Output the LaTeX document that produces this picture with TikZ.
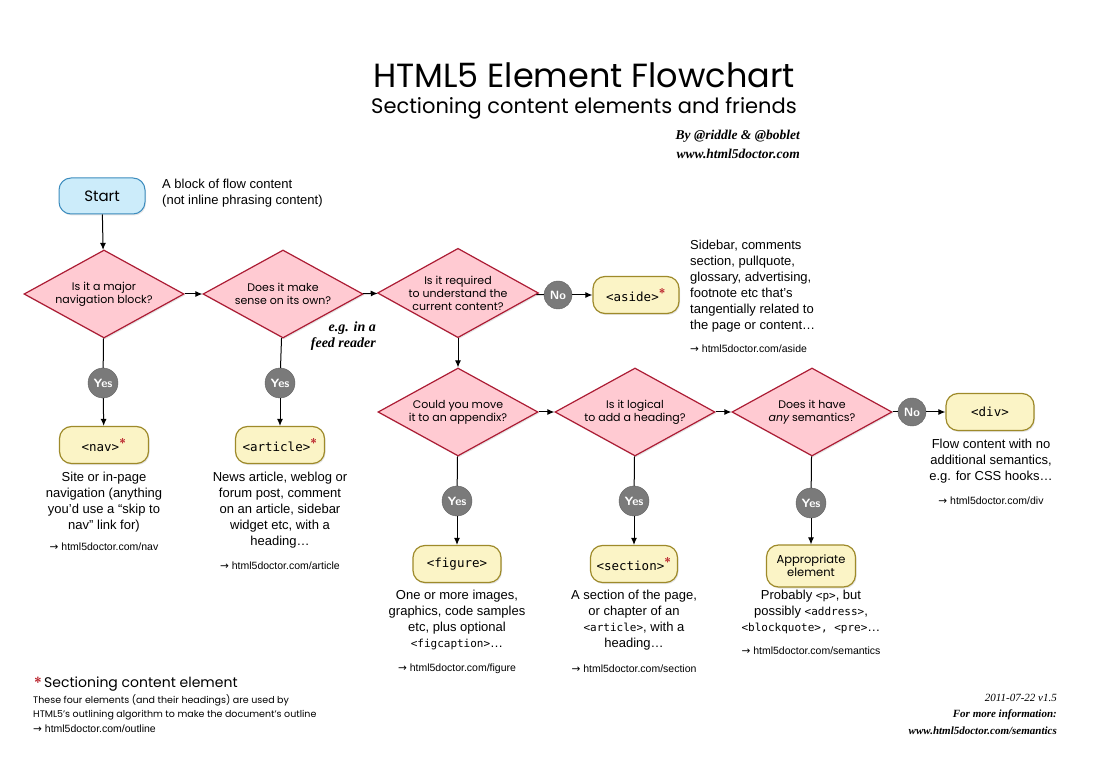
\documentclass[tikz,border=0pt]{standalone}
\usepackage{fontspec}
\usepackage{xcolor}
\usepackage{tikz}
\usetikzlibrary{shapes.geometric, arrows.meta, positioning, shadows}
\setmainfont{Liberation Sans}
\setmonofont{DejaVu Sans Mono}
\newfontfamily\roundfont{Poppins}
\newfontfamily\bookfont{Liberation Serif}
\newfontfamily\arrowfont{DejaVu Sans}
\definecolor{startblue}{RGB}{204,236,250}
\definecolor{startedge}{RGB}{60,140,190}
\definecolor{askpink}{RGB}{255,202,210}
\definecolor{askred}{RGB}{172,28,52}
\definecolor{elemyellow}{RGB}{251,244,198}
\definecolor{elemolive}{RGB}{158,138,42}
\definecolor{answergrey}{RGB}{122,122,122}
\definecolor{sectred}{RGB}{185,30,40}
\newcommand{\sectmark}{\textsuperscript{\textcolor{sectred}{\sffamily\bfseries\large *}}}
\newcommand{\goto}[1]{{\arrowfont →}\ #1}

\begin{document}
\begin{tikzpicture}[x=1pt, y=-1pt]
        \tikzstyle{begin} = [rectangle, rounded corners=12pt, minimum width=86pt, minimum height=36pt, draw=startedge, fill=startblue, line width=1pt, font=\roundfont\fontsize{15}{17}\selectfont, drop shadow={opacity=0.2, shadow xshift=1pt, shadow yshift=-1.5pt}]
        \tikzstyle{question} = [diamond, aspect=1.8, inner sep=0pt, minimum width=160pt, minimum height=88pt, align=center, draw=askred, fill=askpink, line width=1.2pt, font=\roundfont\fontsize{11}{13}\selectfont, drop shadow={opacity=0.2, shadow xshift=1pt, shadow yshift=-1.5pt}]
        \tikzstyle{element} = [rectangle, rounded corners=12pt, minimum width=88pt, minimum height=37pt, align=center, draw=elemolive, fill=elemyellow, line width=1.2pt, font=\ttfamily\fontsize{12.5}{14}\selectfont, drop shadow={opacity=0.2, shadow xshift=1pt, shadow yshift=-1.5pt}]
        \tikzstyle{answer} = [circle, minimum size=30pt, inner sep=0pt, draw=answergrey!80!black, fill=answergrey, text=white, font=\sffamily\bfseries\fontsize{12}{14}\selectfont]
        \tikzstyle{info} = [inner sep=0pt, anchor=north, align=center, font=\fontsize{13}{16}\selectfont]
        \tikzstyle{link} = [inner sep=0pt, font=\fontsize{10.5}{12}\selectfont]
        \tikzstyle{arrow} = [line width=1pt,-{Latex[length=7pt,width=6pt]}]
        \tikzstyle{line} = [line width=1pt]

        \useasboundingbox (0,0) rectangle (1095,775);
        \fill[white] (0,0) rectangle (1095,775);

        % title block
        \node (title) at (584,88) [anchor=base, inner sep=0pt, text depth=0pt, font=\roundfont\fontsize{33.5}{36}\selectfont] {HTML5 Element Flowchart};
        \node (subtitle) at (584,114) [anchor=base, inner sep=0pt, text height=14pt, font=\roundfont\fontsize{21}{24}\selectfont] {Sectioning content elements and friends};
        \node (credits) at (800,144) [anchor=east, align=right, inner sep=0pt, font=\bookfont\bfseries\itshape\fontsize{13.5}{19}\selectfont] {By @riddle \& @boblet\\www.html5doctor.com};

        % first row
        \node (start) at (102,196) [begin] {Start};
        \node (startinfo) at (162,179) [info, anchor=north west, align=left] {A block of flow content\\(not inline phrasing content)};
        \node (nav-q) at (104,294) [question] {Is it a major\\navigation block?};
        \node (own-q) at (283,294) [question] {Does it make\\sense on its own?};
        \node (feed) at (376,322) [anchor=north east, align=right, inner sep=0pt, font=\bookfont\bfseries\itshape\fontsize{14}{16}\selectfont] {e.g. in a\\feed reader};
        \node (need-q) at (458,293) [question] {Is it required\\to understand the\\current content?};
        \node (no1) at (558,295) [answer, minimum size=28pt] {No};
        \node (aside) at (636,295) [element, minimum width=86pt] {<aside>\sectmark};
        \node (asideinfo) at (690,240) [info, anchor=north west, align=left] {Sidebar, comments\\section, pullquote,\\glossary, advertising,\\footnote etc that’s\\tangentially related to\\the page or content…};
        \node (asidelink) at (690,349) [link, anchor=west] {\goto{html5doctor.com/aside}};

        \node (yes1) at (103,383) [answer] {Yes};
        \node (yes2) at (280,383) [answer] {Yes};
        \node (nav) at (104,445) [element, minimum width=89pt] {<nav>\sectmark};
        \node (article) at (280,445) [element, minimum width=89pt] {<article>\sectmark};
        \node (navinfo) at (104,472) [info] {Site or in-page\\navigation (anything\\you’d use a “skip to\\nav” link for)};
        \node (navlink) at (104,547) [link] {\goto{html5doctor.com/nav}};
        \node (articleinfo) at (280,472) [info] {News article, weblog or\\forum post, comment\\on an article, sidebar\\widget etc, with a\\heading…};
        \node (articlelink) at (280,566) [link] {\goto{html5doctor.com/article}};

        % second row
        \node (appx-q) at (458,412) [question] {Could you move\\it to an appendix?};
        \node (head-q) at (635,412) [question] {Is it logical\\to add a heading?};
        \node (sem-q) at (812,412) [question] {Does it have\\{\itshape any} semantics?};
        \node (no2) at (912,412) [answer, minimum size=28pt] {No};
        \node (div) at (990,412) [element] {<div>};
        \node (divinfo) at (991,439) [info] {Flow content with no\\additional semantics,\\e.g. for CSS hooks…};
        \node (divlink) at (991,501) [link] {\goto{html5doctor.com/div}};

        \node (yes3) at (457,501) [answer] {Yes};
        \node (yes4) at (634,501) [answer] {Yes};
        \node (yes5) at (811,503) [answer] {Yes};
        \node (figure) at (457,564) [element] {<figure>};
        \node (section) at (634,564) [element, minimum width=87pt] {<section>\sectmark};
        \node (approp) at (811,566) [element, minimum width=89pt, minimum height=42pt, font=\roundfont\fontsize{11.5}{13}\selectfont] {Appropriate\\element};
        \node (figureinfo) at (457,590) [info] {One or more images,\\graphics, code samples\\etc, plus optional\\{\ttfamily\fontsize{11}{16}\selectfont<figcaption>}…};
        \node (figurelink) at (457,669) [link] {\goto{html5doctor.com/figure}};
        \node (sectioninfo) at (634,590) [info] {A section of the page,\\or chapter of an\\{\ttfamily\fontsize{11}{16}\selectfont<article>}, with a\\heading…};
        \node (sectionlink) at (634,669) [link] {\goto{html5doctor.com/section}};
        \node (appropinfo) at (811,590) [info] {Probably {\ttfamily\fontsize{11}{16}\selectfont<p>}, but\\possibly {\ttfamily\fontsize{11}{16}\selectfont<address>},\\{\ttfamily\fontsize{11}{16}\selectfont<blockquote>, <pre>}…};
        \node (approplink) at (811,651) [link] {\goto{html5doctor.com/semantics}};

        % footnotes
        \node (legend) at (44,684) [anchor=west, inner sep=0pt, font=\roundfont\fontsize{14}{16}\selectfont] {\llap{\textcolor{sectred}{\sffamily\bfseries *}\,}Sectioning content element};
        \node (legendinfo) at (33,694) [anchor=north west, align=left, inner sep=0pt, font=\roundfont\fontsize{9.5}{14}\selectfont] {These four elements (and their headings) are used by\\HTML5’s outlining algorithm to make the document’s outline};
        \node (legendlink) at (33,729) [link, anchor=west] {\goto{html5doctor.com/outline}};
        \node (version) at (1057,698) [anchor=east, inner sep=0pt, font=\bookfont\itshape\fontsize{11}{13}\selectfont] {2011-07-22 v1.5};
        \node (moreinfo) at (1057,715) [anchor=east, inner sep=0pt, font=\bookfont\bfseries\itshape\fontsize{11}{13}\selectfont] {For more information:};
        \node (moreurl) at (1057,731) [anchor=east, inner sep=0pt, font=\bookfont\bfseries\itshape\fontsize{11}{13}\selectfont] {www.html5doctor.com/semantics};

        \draw [arrow] (start) -- (nav-q);
        \draw [arrow] (nav-q) -- (own-q);
        \draw [arrow] (own-q) -- (need-q);
        \draw [line] (need-q) -- (no1);
        \draw [arrow] (no1) -- (aside);
        \draw [arrow] (need-q) -- (appx-q);
        \draw [line] (nav-q) -- (yes1);
        \draw [arrow] (yes1) -- (nav);
        \draw [line] (own-q) -- (yes2);
        \draw [arrow] (yes2) -- (article);
        \draw [arrow] (appx-q) -- (head-q);
        \draw [arrow] (head-q) -- (sem-q);
        \draw [line] (sem-q) -- (no2);
        \draw [arrow] (no2) -- (div);
        \draw [line] (appx-q) -- (yes3);
        \draw [arrow] (yes3) -- (figure);
        \draw [line] (head-q) -- (yes4);
        \draw [arrow] (yes4) -- (section);
        \draw [line] (sem-q) -- (yes5);
        \draw [arrow] (yes5) -- (approp);
    \end{tikzpicture}
\end{document}
